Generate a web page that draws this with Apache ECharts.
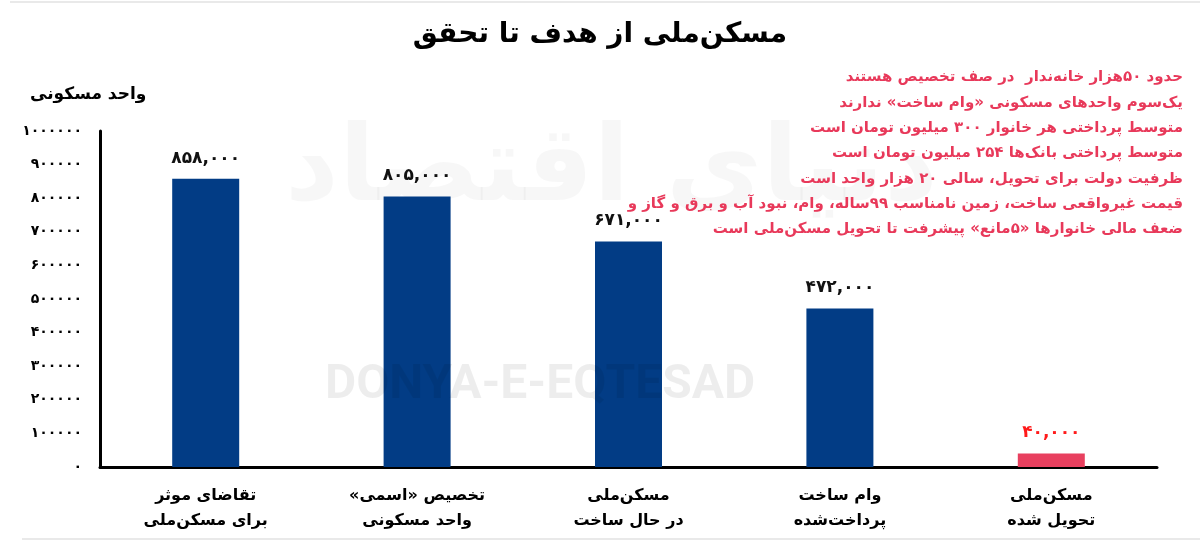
<!DOCTYPE html>
<html>
<head>
<meta charset="utf-8">
<script src="https://cdn.jsdelivr.net/npm/echarts@6/dist/echarts.min.js"></script>
<style>
html,body{margin:0;padding:0;background:#fff;}
#chart{width:1200px;height:541px;}
</style>
</head>
<body>
<div id="chart"></div>
<script>
const title = 'مسکن‌ملی از هدف تا تحقق';
const yAxisTitle = 'واحد مسکونی';
const categories = [
  'تقاضای موثر\nبرای مسکن‌ملی',
  'تخصیص «اسمی»\nواحد مسکونی',
  'مسکن‌ملی\nدر حال ساخت',
  'وام ساخت\nپرداخت‌شده',
  'مسکن‌ملی\nتحویل شده'
];
const values = [858000, 805000, 671000, 472000, 40000];
const barColors = ['#023c85', '#023c85', '#023c85', '#023c85', '#e8405f'];
const labelColors = ['#111', '#111', '#111', '#111', '#ff1a1a'];
const yMin = 0, yMax = 1000000, yStep = 100000;
const notes = [
  'حدود ۵۰هزار خانه‌ندار  در صف تخصیص هستند',
  'یک‌سوم واحدهای مسکونی «وام ساخت» ندارند',
  'متوسط پرداختی هر خانوار ۳۰۰ میلیون تومان است',
  'متوسط پرداختی بانک‌ها ۲۵۴ میلیون تومان است',
  'ظرفیت دولت برای تحویل، سالی ۲۰ هزار واحد است',
  'قیمت غیرواقعی ساخت، زمین نامناسب ۹۹ساله، وام، نبود آب و برق و گاز و',
  'ضعف مالی خانوارها «۵مانع» پیشرفت تا تحویل مسکن‌ملی است'
];

const FA = '۰۱۲۳۴۵۶۷۸۹';
const RLM = '\u200F';
function toFa(s){ return String(s).replace(/[0-9]/g, d => FA[+d]); }
function fmtThousands(n){ return toFa(n.toLocaleString('en-US')); }
function rtl(s){ return s.split('\n').map(l => RLM + l + RLM).join('\n'); }

const FONT = '"DejaVu Sans", "Noto Sans", sans-serif';
const chart = echarts.init(document.getElementById('chart'), null, {renderer:'canvas'});

const noteGraphics = notes.map((t, i) => ({
  type: 'text', right: 17, top: 70 + i * 25.3, z: 10,
  style: { text: rtl(t), fill: '#e8395a', font: 'bold 15px ' + FONT, textAlign: 'right' }
}));

chart.setOption({
  animation: false,
  backgroundColor: '#fff',
  title: {
    text: rtl(title), left: 'center', top: 16,
    textStyle: { fontFamily: FONT, fontWeight: 'bold', fontSize: 28, color: '#000' }
  },
  grid: { left: 100, right: 43, top: 131, bottom: 74, containLabel: false },
  xAxis: {
    type: 'category', data: categories,
    axisTick: { show: false },
    axisLine: { lineStyle: { color: '#000', width: 3 } },
    axisLabel: { color: '#000', fontFamily: FONT, fontWeight: 'bold', fontSize: 16, lineHeight: 25, margin: 16,
      formatter: v => rtl(v) }
  },
  yAxis: {
    type: 'value', min: yMin, max: yMax, interval: yStep,
    splitLine: { show: false },
    axisTick: { show: false },
    axisLine: { show: true, lineStyle: { color: '#000', width: 3 } },
    axisLabel: { color: '#000', fontFamily: FONT, fontWeight: 'bold', fontSize: 14, margin: 18,
      formatter: v => toFa(v) }
  },
  series: [{
    type: 'bar', barWidth: 67,
    data: values.map((v, i) => ({
      value: v,
      itemStyle: { color: barColors[i] },
      label: { color: labelColors[i] }
    })),
    label: {
      show: true, position: 'top', distance: 12,
      fontFamily: FONT, fontWeight: 'bold', fontSize: 17,
      formatter: p => fmtThousands(p.value)
    }
  }],
  graphic: [
    { type: 'rect', left: 10, top: 1, shape: { width: 1190, height: 2 }, style: { fill: '#e9e9e9' }, silent: true },
    { type: 'rect', left: 22, top: 538, shape: { width: 1178, height: 2 }, style: { fill: '#e9e9e9' }, silent: true },
    { type: 'text', left: 30, top: 86, z: 10,
      style: { text: rtl(yAxisTitle), fill: '#000', font: 'bold 17px ' + FONT } },
    { type: 'text', left: 285, top: 120, z: 0,
      style: { text: rtl('دنیای اقتصاد'), fill: 'rgba(0,0,0,0.03)', font: 'bold 105px ' + FONT } },
    { type: 'text', left: 325, top: 362, z: 100,
      style: { text: 'DONYA-E-EQTESAD', fill: 'rgba(0,0,0,0.07)', font: 'bold 48px Roboto, sans-serif' } }
  ].concat(noteGraphics)
});
</script>
</body>
</html>
